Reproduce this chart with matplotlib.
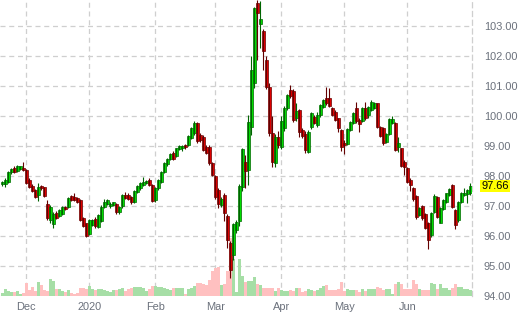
import matplotlib
matplotlib.use("Agg")
import matplotlib.pyplot as plt
import numpy as np
import pandas as pd

plt.rcParams['font.family'] = ['Liberation Sans', 'DejaVu Sans']

# ---- data -------------------------------------------------------------
holidays = ['2019-12-25', '2020-01-01', '2020-04-10']
dates = pd.bdate_range('2019-11-20', '2020-06-30')
dates = dates[~dates.isin(pd.to_datetime(holidays))]

opens = [97.72, 97.74, 97.81, 98.12, 98.28, 98.16, 98.24, 98.28, 98.20, 97.87,
         97.68, 97.53, 97.36, 97.66, 97.62, 97.07, 96.55, 96.40, 96.77, 96.67,
         96.73, 96.97, 96.97, 97.33, 97.30, 97.27, 97.20, 96.60, 96.43, 96.07,
         96.37, 96.57, 96.31, 96.51, 96.97, 97.07, 97.00, 97.03, 97.06, 96.80,
         97.00, 97.37, 97.37, 97.30, 97.13, 97.48, 97.59, 97.70, 97.77, 97.87,
         97.70, 97.20, 97.59, 97.81, 98.14, 98.39, 98.57, 98.78, 98.68, 98.89,
         98.92, 99.02, 99.04, 99.26, 99.42, 99.76, 99.37, 99.31, 98.98, 98.98,
         98.42, 98.00, 97.53, 97.03, 97.37, 96.67, 95.76, 95.37, 96.20, 96.51,
         97.64, 98.48, 98.20, 99.64, 101.09, 103.78, 103.07, 102.84, 101.87, 100.96,
         99.42, 98.42, 99.31, 98.98, 99.59, 100.26, 100.87, 100.84, 99.92, 100.20,
         99.53, 99.40, 98.81, 99.62, 99.98, 99.70, 100.03, 100.31, 100.59, 100.60,
         100.26, 100.15, 99.92, 99.53, 99.10, 99.07, 99.53, 99.78, 100.26, 99.87,
         99.84, 100.26, 100.03, 100.20, 100.27, 100.42, 99.64, 99.59, 99.15, 99.40,
         99.78, 99.76, 98.98, 98.92, 98.48, 98.26, 97.88, 97.59, 97.34, 96.70,
         97.00, 96.75, 96.45, 96.03, 96.81, 97.30, 96.45, 96.90, 97.14, 97.37,
         97.70, 96.87, 96.53, 97.14, 97.37, 97.40, 97.42]
highs = [97.82, 97.95, 98.18, 98.26, 98.32, 98.36, 98.35, 98.48, 98.24, 97.92,
         97.72, 97.58, 97.78, 97.70, 97.65, 97.20, 97.05, 96.80, 96.82, 96.90,
         97.00, 97.00, 97.30, 97.38, 97.42, 97.30, 97.25, 96.65, 96.45, 96.58,
         96.58, 96.62, 96.74, 97.02, 97.25, 97.24, 97.12, 97.15, 97.10, 97.00,
         97.40, 97.48, 97.45, 97.35, 97.54, 97.70, 97.80, 97.98, 97.86, 97.92,
         97.74, 97.64, 97.90, 98.18, 98.47, 98.60, 98.77, 98.82, 98.95, 99.03,
         99.02, 99.08, 99.36, 99.62, 99.82, 99.80, 99.42, 99.36, 99.05, 99.02,
         98.48, 98.05, 97.60, 97.30, 97.42, 96.72, 95.82, 96.45, 96.55, 97.72,
         98.95, 98.70, 100.05, 102.00, 103.65, 103.86, 103.85, 102.90, 102.00, 101.10,
         100.00, 99.40, 99.50, 100.00, 100.35, 100.75, 101.05, 100.90, 100.45, 100.25,
         99.60, 99.50, 99.55, 100.15, 100.05, 100.12, 100.40, 100.58, 100.98, 100.92,
         100.30, 100.20, 99.95, 99.58, 99.20, 99.60, 99.85, 100.15, 100.48, 99.92,
         100.30, 100.48, 100.35, 100.53, 100.47, 100.45, 99.66, 99.62, 99.45, 99.92,
         100.00, 99.80, 99.30, 98.95, 98.52, 98.30, 97.92, 97.62, 97.38, 96.96,
         97.04, 96.78, 96.48, 96.80, 97.40, 97.33, 96.98, 97.24, 97.45, 97.60,
         97.74, 96.90, 97.18, 97.46, 97.60, 97.57, 97.77]
lows = [97.68, 97.64, 97.78, 98.08, 98.10, 98.13, 98.20, 98.16, 97.74, 97.60,
        97.48, 97.26, 97.18, 97.55, 97.30, 96.52, 96.45, 96.28, 96.58, 96.62,
        96.70, 96.86, 96.95, 97.17, 97.18, 97.10, 96.50, 96.30, 95.97, 96.02,
        96.33, 96.28, 96.28, 96.48, 96.92, 97.04, 96.95, 97.00, 96.75, 96.72,
        96.95, 97.22, 97.20, 97.08, 97.10, 97.45, 97.55, 97.66, 97.72, 97.66,
        97.12, 97.15, 97.55, 97.78, 98.10, 98.35, 98.53, 98.55, 98.62, 98.86,
        98.85, 98.90, 99.00, 99.22, 99.38, 99.10, 99.15, 98.82, 98.72, 98.38,
        98.00, 97.25, 96.95, 96.98, 96.50, 95.60, 94.60, 95.20, 96.10, 96.35,
        97.50, 97.60, 97.70, 99.37, 100.95, 101.87, 102.27, 101.53, 100.90, 99.35,
        98.30, 98.30, 98.95, 98.90, 99.50, 100.20, 100.60, 99.80, 99.85, 99.30,
        99.28, 98.76, 98.76, 99.58, 99.72, 99.65, 99.98, 100.28, 100.38, 100.30,
        100.00, 99.82, 99.48, 98.82, 98.75, 99.03, 99.50, 99.74, 99.76, 99.48,
        99.80, 99.88, 99.95, 100.16, 100.24, 99.60, 99.30, 99.05, 99.10, 99.36,
        99.74, 98.83, 98.80, 98.30, 98.05, 97.78, 97.50, 97.18, 96.58, 96.66,
        96.55, 96.22, 95.57, 95.98, 96.77, 96.60, 96.42, 96.86, 97.10, 97.33,
        96.94, 96.25, 96.48, 97.10, 97.33, 97.10, 97.38]
closes = [97.79, 97.88, 98.14, 98.22, 98.13, 98.32, 98.32, 98.19, 97.76, 97.64,
          97.51, 97.30, 97.64, 97.60, 97.34, 96.59, 96.98, 96.75, 96.60, 96.87,
          96.97, 96.90, 97.27, 97.20, 97.20, 97.13, 96.53, 96.34, 96.00, 96.53,
          96.53, 96.33, 96.70, 96.98, 97.13, 97.20, 97.08, 97.12, 96.80, 96.97,
          97.37, 97.27, 97.25, 97.13, 97.50, 97.67, 97.76, 97.81, 97.82, 97.70,
          97.18, 97.60, 97.87, 98.14, 98.43, 98.56, 98.73, 98.57, 98.92, 99.00,
          99.00, 98.96, 99.33, 99.59, 99.78, 99.16, 99.20, 98.87, 98.76, 98.42,
          98.03, 97.29, 97.07, 97.22, 96.76, 95.87, 94.87, 96.40, 96.48, 97.67,
          98.89, 98.18, 99.81, 101.53, 103.59, 103.44, 103.22, 102.18, 100.96, 99.42,
          98.48, 99.29, 99.03, 99.85, 100.26, 100.70, 100.67, 99.87, 100.18, 99.48,
          99.33, 98.87, 99.48, 100.09, 99.76, 100.05, 100.37, 100.53, 100.42, 100.35,
          100.03, 99.87, 99.59, 98.98, 99.03, 99.56, 99.81, 100.11, 99.82, 99.73,
          100.26, 99.92, 100.31, 100.48, 100.43, 99.64, 99.33, 99.09, 99.40, 99.89,
          99.89, 98.87, 99.09, 98.33, 98.29, 97.81, 97.70, 97.22, 96.62, 96.92,
          96.59, 96.26, 95.87, 96.76, 97.35, 96.63, 96.95, 97.20, 97.42, 97.56,
          96.98, 96.37, 97.14, 97.42, 97.42, 97.53, 97.66]
volume = [3.3, 6.7, 5, 4, 4, 5, 2, 3, 13, 6, 9, 5, 14, 11, 6, 5, 17, 15, 7, 7,
          5, 4, 6, 3, 2, 3, 8, 8, 7, 10, 7, 6, 7, 7, 6, 5, 4, 6, 6, 7,
          8, 5, 7, 8, 9, 9, 9, 8, 5, 7, 10, 10, 9, 9, 8, 7, 6, 8, 8, 8,
          8, 2, 7, 8, 10, 13, 13, 12, 11, 16, 25, 28, 29, 11, 12, 25, 58, 37, 4, 37,
          20, 14, 15, 15, 19, 12, 11, 8, 8, 8, 8, 5, 8, 6, 5, 5, 6, 5, 8, 8,
          4, 5, 7, 6, 5, 6, 8, 10, 11, 6, 6, 6, 7, 14, 5, 7, 6, 6, 6, 4,
          7, 5, 7, 7, 7, 9, 8, 6, 7, 7, 2, 12, 14, 12, 7, 7, 7, 16, 12, 7,
          6, 6, 6, 13, 12, 7, 12, 8, 8, 6, 8, 12, 9, 9, 7, 7, 6]

price_ticks = [94, 95, 96, 97, 98, 99, 100, 101, 102, 103]
last_price = "97.66"
month_names = {12: "Dec", 1: "2020", 2: "Feb", 3: "Mar", 4: "Apr", 5: "May", 6: "Jun"}

# ---- figure -----------------------------------------------------------
W, H = 522, 315
fig = plt.figure(figsize=(W / 100, H / 100), dpi=100)
rect = [0, 1 - 296 / H, 472 / W, 296 / H]

ax = fig.add_axes(rect)
axv = fig.add_axes(rect, sharex=ax)
axc = fig.add_axes(rect, sharex=ax, sharey=ax)
axv.axis('off')
axc.axis('off')

n = len(dates)
x = np.arange(n)
o = np.array(opens); c = np.array(closes)
h = np.array(highs); l = np.array(lows)
up = c >= o

month_idx = [i for i in range(1, n) if dates[i].month != dates[i - 1].month]
month_lab = [month_names[dates[i].month] for i in month_idx]

ax.set_xlim(-0.77, n - 1 + 0.57)
ax.set_ylim(94.0, 103.867)
ax.set_xticks(month_idx)
ax.set_xticklabels(month_lab)
ax.set_yticks(price_ticks)
ax.set_yticklabels([f"{v:.2f}" for v in price_ticks])
ax.yaxis.tick_right()
txtcol = '#6b717c'
ax.tick_params(axis='both', length=0, labelsize=7.9, colors=txtcol)
ax.tick_params(axis='y', pad=8.5)
ax.tick_params(axis='x', pad=4)
ax.grid(True, color='#cfcfcf', linestyle=(0, (4, 3)), linewidth=0.9)
for s in ['left', 'top', 'bottom']:
    ax.spines[s].set_visible(False)
ax.spines['right'].set_color('#cfcfcf')
ax.spines['right'].set_linestyle((0, (4, 3)))
ax.spines['right'].set_linewidth(0.9)

# volume
axv.set_ylim(0, 296)
vcol = np.where(up, '#a6dea6', '#ffc0c0')
axv.bar(x, volume, width=1.0, color=vcol, linewidth=0)

# candles
fill = np.where(up, '#00e600', '#e60000')
edge = np.where(up, '#006400', '#640000')
axc.vlines(x, l, h, colors=edge, linewidth=0.8)
body = np.where(np.abs(c - o) < 0.02, 0.02, c - o)
axc.bar(x, body, bottom=o, width=0.82, color=fill, edgecolor=edge, linewidth=0.5)

fig.text(481.5 / W, 1 - 186 / H, last_price, fontsize=7.9, color='black',
         va='center', ha='left',
         bbox=dict(boxstyle='square,pad=0.12', facecolor='#ffff00', edgecolor='none'))

fig.savefig('out.png', dpi=100)
